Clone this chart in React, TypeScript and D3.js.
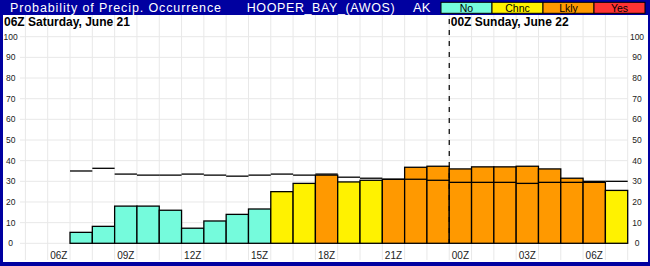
import React from "react";
import * as d3 from "d3";

const hours = [1,2,3,4,5,6,7,8,9,10,11,12,13,14,15,16,17,18,19,20,21,22,23,24,25];
const popValues = [5.3,8.2,18,18,16,7.3,10.8,14,16.6,25,29,33,29.7,30.5,31,36.8,37.3,36,37,37,37.3,36,31.5,29.5,25.6];
const popCategory = ["No","No","No","No","No","No","No","No","No","Chnc","Chnc","Lkly","Chnc","Chnc","Lkly","Lkly","Lkly","Lkly","Lkly","Lkly","Lkly","Lkly","Lkly","Lkly","Chnc"];
const refLine = [35,36.3,33.5,33,33,33.5,33,32.5,33,33.5,33,33.5,32,31.5,31,31,30.5,29.5,29.5,29.5,29,29.5,29.5,30,30];
const xTickHours = [0.5,3.5,6.5,9.5,12.5,15.5,18.5,21.5,24.5];
const xTickLabels = ["06Z","09Z","12Z","15Z","18Z","21Z","00Z","03Z","06Z"];
const yTicks = [0,10,20,30,40,50,60,70,80,90,100];
const legendNames = ["No","Chnc","Lkly","Yes"];
const legendColors = ["#75fbdc","#fff200","#ff9900","#ff3333"];

const W = 650, H = 266;
const NAVY = "#0000a0";
const FONT = "'Liberation Sans', Arial, sans-serif";

export default function App() {
  const x = d3.scaleLinear().domain([-2, 26]).range([3.1, 627.7]);
  const y = d3.scaleLinear().domain([0, 100]).range([243.3, 36.7]);
  const color = d3.scaleOrdinal<string, string>().domain(legendNames).range(legendColors);
  const legendX = d3.scaleBand().domain(legendNames).range([441, 645]);
  const vGrid = d3.range(-1, 27);

  return (
    <svg width={W} height={H} style={{ position: "absolute", left: 0, top: 0 }} fontFamily={FONT}>
      <rect x={0} y={0} width={W} height={H} fill={NAVY} />
      <rect x={3} y={15} width={645} height={247} fill="#ffffff" />
      {/* grid */}
      {vGrid.map((h) => (
        <line key={"v" + h} x1={x(h)} x2={x(h)} y1={15} y2={260} stroke="#e8e8e8" strokeWidth={1} />
      ))}
      {yTicks.map((t) => (
        <line key={"h" + t} x1={20} x2={x(26)} y1={y(t)} y2={y(t)} stroke="#e8e8e8" strokeWidth={1} />
      ))}
      {/* bars */}
      {hours.map((h, i) => (
        <rect key={"b" + h} x={x(h)} y={y(popValues[i])} width={x(h + 1) - x(h)} height={y(0) - y(popValues[i])}
          fill={color(popCategory[i])} stroke="#000" strokeWidth={1.3} />
      ))}
      {/* reference step line */}
      {hours.map((h, i) => (
        <line key={"r" + h} x1={x(h)} x2={x(h + 1)} y1={y(refLine[i])} y2={y(refLine[i])} stroke="#000" strokeWidth={1.3} />
      ))}
      {/* day separator */}
      <line x1={x(18)} x2={x(18)} y1={19} y2={y(0)} stroke="#000" strokeWidth={1.2} strokeDasharray="5,6" />
      {/* y labels */}
      {yTicks.map((t) => (
        <g key={"yl" + t} fontSize={8.5} fill="#222" textAnchor="middle">
          <text x={10.7} y={y(t) + 3}>{t}</text>
          <text x={637} y={y(t) + 3}>{t}</text>
        </g>
      ))}
      {/* x labels */}
      {xTickHours.map((h, i) => (
        <text key={"xl" + i} x={x(h)} y={259} fontSize={10} textAnchor="middle" fill="#222">{xTickLabels[i]}</text>
      ))}
      {/* date labels */}
      <text x={4} y={26} fontSize={12} fontWeight="bold" fill="#000">06Z Saturday, June 21</text>
      <text x={x(18) + 1.5} y={26} fontSize={12} fontWeight="bold" fill="#000">00Z Sunday, June 22</text>
      {/* header */}
      <text x={10} y={11.5} fontSize={12.5} fill="#fff" textLength={211} lengthAdjust="spacing">Probability of Precip. Occurrence</text>
      <text x={246.7} y={11.5} fontSize={12.5} fill="#fff" textLength={148} lengthAdjust="spacing">HOOPER_BAY_(AWOS)</text>
      <text x={413} y={11.5} fontSize={13} fill="#fff">AK</text>
      {legendNames.map((n, i) => (
        <g key={"lg" + n}>
          <rect x={legendX(n)} y={2.3} width={legendX.bandwidth()} height={11} fill={legendColors[i]} stroke="#000" strokeWidth={1} />
          <text x={(legendX(n) as number) + legendX.bandwidth() / 2} y={11.8} fontSize={10.5} textAnchor="middle" fill="#000">{n}</text>
        </g>
      ))}
    </svg>
  );
}
